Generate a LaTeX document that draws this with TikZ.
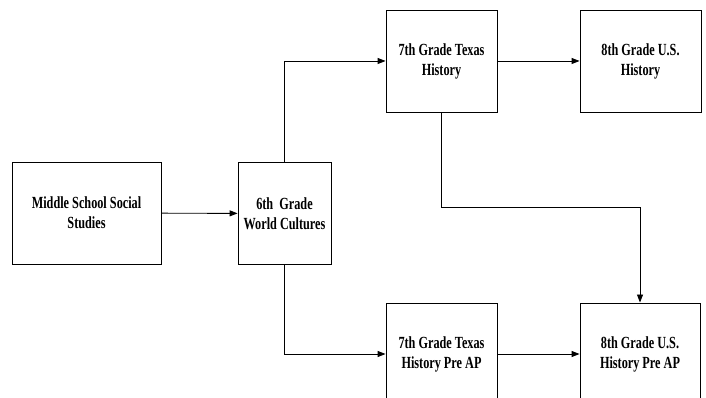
\documentclass[tikz,border=0pt]{standalone}
\usepackage{fontspec}
\setmainfont{Liberation Serif}[FakeStretch=0.72]
\usetikzlibrary{arrows.meta}
\begin{document}
\begin{tikzpicture}[x=1pt,y=1pt,
    box/.style={draw,line width=0.9pt,minimum height=102pt,align=center,
      inner sep=0pt,font=\fontsize{17}{20}\selectfont\bfseries},
    link/.style={line width=0.9pt,-{Triangle[length=8pt,width=6pt]}}]
  \useasboundingbox (0,0) rectangle (706,398);
  \clip (0,0) rectangle (706,398);
  \node[box,minimum width=149pt] (ms)   at (86.5,185) {Middle School Social\\Studies};
  \node[box,minimum width=93pt]  (g6)   at (284.5,184.5) {6th\ \ Grade\\World Cultures};
  \node[box,minimum width=111pt] (g7)   at (441.5,337) {7th Grade Texas\\History};
  \node[box,minimum width=121pt] (g8)   at (640.5,337) {8th Grade U.S.\\History};
  \node[box,minimum width=111pt] (g7ap) at (441.5,44) {7th Grade Texas\\History Pre AP};
  \node[box,minimum width=120pt] (g8ap) at (640,44) {8th Grade U.S.\\History Pre AP};
  \coordinate (bend) at (441.5,191);
  \draw[link] (ms) -- (g6);
  \draw[link] (g6.north) |- (g7);
  \draw[link] (g6.south) |- (g7ap);
  \draw[link] (g7) -- (g8);
  \draw[link] (g7ap) -- (g8ap);
  \draw[link] (g7.south) -- (bend) -| (g8ap.north);
\end{tikzpicture}
\end{document}
